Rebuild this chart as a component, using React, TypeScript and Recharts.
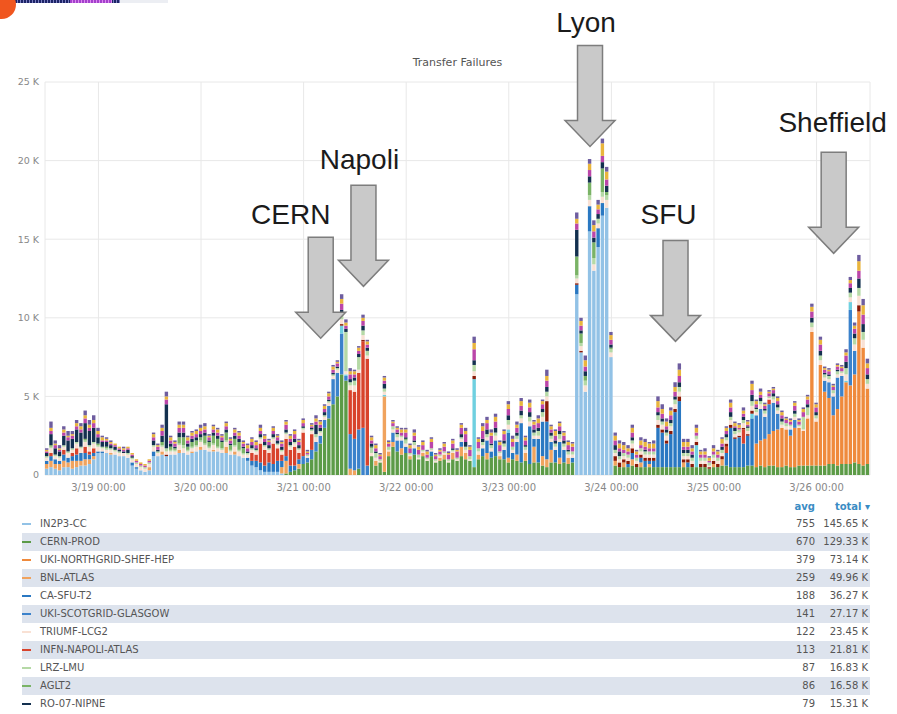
import React from 'react';
import { BarChart, Bar, XAxis, YAxis, CartesianGrid, ReferenceDot } from 'recharts';

// one bar per hour, from 3/18 12:00 to 3/26 12:00
const DAYS = ['3/18', '3/19', '3/20', '3/21', '3/22', '3/23', '3/24', '3/25', '3/26'];
const FIRST_HOUR = 12;
const LAST_HOUR = 12;
const X_TICKS = ['3/19 00:00', '3/20 00:00', '3/21 00:00', '3/22 00:00', '3/23 00:00', '3/24 00:00', '3/25 00:00', '3/26 00:00'];
const Y_TICKS = [0, 5000, 10000, 15000, 20000, 25000];

// failures per hour, in hundreds. one line per day (3/18 and 3/26 are half days)
const CERN_PROD = [
  0,0,0,0,0,0,0,0,0,0,0,0,
  0,0,0,0,0,0,0,0,0,0,0,0, 0,0,0,0,0,0,0,0,0,0,0,0,
  0,0,0,0,0,0,0,0,0,0,0,0, 0,0,0,0,0,0,0,0,1,2,3,4,
  7,8,10,15,20,30,36,45,50,64,60,0, 0,4,0,0,12,6,8,2,12,18,15,13,
  14,10,13,10,12,9,12,8,9,10,8,10, 9,12,10,9,5,10,12,10,11,12,10,10,
  8,10,9,8,9,7,8,8,6,5,8,8, 7,8,7,8,0,0,0,0,0,0,0,0,
  0,6,5,5,5,6,5,5,5,5,5,5, 5,5,5,5,5,5,5,5,5,5,5,4,
  5,5,6,6,5,5,5,5,6,6,5,6, 5,6,6,5,5,6,5,5,6,6,6,6,
  6,6,6,7,7,6,7,7,7,8,7,6,7,
];
const IN2P3_CC = [
  4,5,4,3,5,5,4,5,6,6,7,10,
  14,14,14,13,13,12,12,11,6,4,3,2, 3,12,12,13,12,13,13,14,14,13,14,15,
  16,16,15,15,15,14,14,13,13,12,11,9, 6,5,3,2,2,2,2,1,0,0,0,0,
  0,0,0,0,0,0,0,0,0,0,0,0, 0,0,0,0,0,0,0,0,0,0,0,0,
  0,0,0,0,0,0,0,0,0,0,0,0, 0,0,0,0,0,0,0,0,0,0,0,0,
  0,0,0,0,0,0,0,0,0,0,0,0, 0,0,0,0,115,78,53,155,130,145,165,170,
  75,0,0,0,0,0,0,0,0,0,0,0, 0,0,0,0,0,0,0,0,0,0,0,0,
  0,0,0,0,0,0,0,0,0,0,0,0, 0,0,0,0,0,0,0,0,0,0,0,0,
  0,0,0,0,0,0,0,0,0,0,0,0,0,
];
const SHEF_HEP = [
  0,0,0,0,0,0,0,0,0,0,0,0,
  0,0,0,0,0,0,0,0,0,0,0,0, 0,0,0,0,0,0,0,0,0,0,0,0,
  0,0,0,0,0,0,0,0,0,0,0,0, 0,0,0,0,0,0,0,0,0,0,0,0,
  0,0,0,0,0,0,0,0,0,0,0,0, 0,0,0,0,0,0,0,0,0,0,0,0,
  0,0,0,0,0,0,0,0,0,0,0,0, 0,0,0,0,0,0,0,0,0,0,0,0,
  0,0,0,0,0,0,0,0,0,0,0,0, 0,0,0,0,0,0,0,0,0,0,0,0,
  0,0,0,0,0,0,0,0,0,0,0,0, 0,0,0,0,0,0,0,0,0,0,0,0,
  0,0,0,0,0,0,0,0,0,0,15,16, 18,20,22,24,25,23,20,25,24,22,30,85,
  28,64,47,42,31,36,43,52,50,56,97,75,48,
];
const BNL_ATLAS = [
  3,4,3,4,4,3,5,4,3,4,3,2,
  0,0,0,1,0,0,0,0,0,0,0,0, 2,0,0,2,0,0,0,2,0,0,1,0,
  2,0,0,1,0,0,4,0,2,0,0,0, 0,0,0,0,0,0,0,4,8,0,0,3,
  0,0,0,0,0,0,0,0,0,0,0,4, 3,0,0,0,0,3,0,48,3,3,0,4,
  0,2,0,0,2,0,0,0,2,3,0,4, 0,6,4,0,0,3,0,4,0,0,2,0,
  3,0,4,0,5,0,10,0,6,5,8,0, 4,0,4,0,0,0,0,0,0,0,0,0,
  0,3,0,3,0,4,0,3,0,2,0,0, 0,0,0,0,0,3,0,0,0,0,0,0,
  2,0,4,0,0,0,0,0,0,0,0,0, 0,0,0,0,0,0,0,0,0,0,0,0,
  0,0,0,0,0,0,0,0,0,0,0,0,0,
];
const CA_SFU = [
  2,3,3,2,4,3,3,4,5,4,3,2,
  1,1,0,0,0,0,0,0,2,1,0,0, 0,3,0,0,0,0,0,0,0,0,0,0,
  0,0,0,0,0,0,0,0,0,0,0,2, 3,4,5,4,6,5,7,4,3,4,3,3,
  0,0,0,0,0,0,0,0,0,0,0,0, 0,0,0,0,0,0,0,0,0,0,0,0,
  4,0,4,0,0,0,3,0,0,0,0,0, 0,3,0,0,0,0,5,8,4,10,0,6,
  16,4,8,25,0,24,5,15,22,24,5,8, 10,8,0,3,6,0,0,16,0,12,8,0,
  0,0,0,0,2,4,0,3,4,2,4,25, 22,15,21,35,42,0,3,0,0,0,0,0,
  0,0,0,8,25,18,19,15,19,30,0,0, 0,0,0,0,0,0,0,0,0,0,0,0,
  0,0,0,0,0,0,0,0,0,0,0,0,0,
];
const GLASGOW = [
  0,0,0,0,0,0,0,0,0,0,0,0,
  0,0,0,0,0,0,0,0,0,0,0,0, 0,0,0,0,0,0,0,0,0,0,0,0,
  0,0,0,0,0,0,0,0,0,0,0,0, 0,0,0,0,0,0,0,0,0,0,0,0,
  5,3,6,6,5,5,8,16,15,26,3,22, 20,25,30,6,0,0,0,0,0,6,7,5,
  0,0,0,0,0,0,0,0,0,0,0,0, 0,0,0,0,0,0,0,0,0,0,0,0,
  0,0,0,0,0,0,0,0,0,0,0,0, 0,0,0,0,0,0,0,0,0,0,0,0,
  0,0,0,0,0,0,0,0,0,0,0,0, 0,0,0,0,0,0,0,0,0,0,0,0,
  0,0,0,0,0,0,0,0,0,0,18,20, 14,19,18,10,0,0,4,5,0,0,0,0,
  0,0,7,10,12,20,13,0,48,15,0,0,0,
];
const NAPOLI = [
  0,2,0,0,3,0,2,4,0,4,2,3,
  0,0,0,0,0,0,0,0,0,0,0,0, 0,0,0,0,0,0,0,0,0,0,0,0,
  0,0,0,0,0,0,0,0,0,0,0,0, 5,4,12,10,6,13,8,4,11,10,12,4,
  15,0,10,0,0,0,0,0,0,0,0,28, 30,36,55,68,0,0,0,0,0,0,0,0,
  0,0,0,0,0,0,0,0,0,0,0,0, 0,0,0,0,0,0,0,0,0,0,0,0,
  0,0,0,0,0,0,0,0,0,0,0,0, 0,0,0,0,0,0,0,0,0,0,0,0,
  0,0,0,0,0,0,0,0,0,0,0,0, 0,0,0,0,0,0,0,0,0,0,0,0,
  0,0,0,4,0,0,0,9,0,0,0,0, 0,3,0,0,0,0,0,0,0,0,0,0,
  0,0,0,0,0,0,0,0,0,0,0,0,0,
];
const OTHER_CYAN = [
  0,0,0,0,0,0,0,0,0,0,0,0,
  0,0,0,0,0,0,0,0,0,0,0,0, 0,0,0,0,0,0,0,0,0,0,0,0,
  0,0,0,0,0,0,0,0,0,0,0,0, 0,0,0,0,0,0,0,0,0,0,0,0,
  0,0,0,0,0,0,0,0,0,5,1,0, 0,0,0,0,0,0,0,1,0,0,0,0,
  0,0,0,0,0,0,0,0,0,0,0,0, 0,0,0,0,56,0,0,0,0,0,0,0,
  2,0,0,0,0,0,0,0,0,0,0,0, 0,0,0,0,0,0,0,0,0,0,0,0,
  0,0,0,0,0,0,0,0,0,0,0,0, 0,0,0,0,0,0,0,0,14,0,0,0,
  0,0,0,0,0,0,0,0,0,3,0,0, 0,0,0,0,0,0,0,0,0,0,0,0,
  0,0,0,0,0,0,0,1,5,0,0,0,0,
];
const OTHER_DARKRED = [
  0,0,0,0,0,0,0,0,0,0,0,0,
  0,0,0,0,0,0,0,0,0,0,0,0, 0,0,0,0,1,0,0,0,0,0,0,0,
  0,0,0,0,0,0,0,0,0,0,0,0, 0,0,0,0,0,0,0,0,0,0,0,0,
  0,0,0,0,0,0,0,0,0,1,0,0, 0,0,1,0,0,0,0,0,0,0,0,0,
  0,0,0,0,0,0,0,0,0,0,0,0, 0,0,0,0,2,0,0,0,0,0,0,0,
  0,0,0,0,0,0,0,0,0,13,0,0, 0,0,0,0,1,1,0,0,0,0,0,0,
  0,3,3,2,2,3,2,2,2,2,2,2, 2,2,2,2,3,2,2,2,2,2,2,1,
  2,2,2,2,2,1,1,1,1,2,0,0, 0,0,0,0,0,0,0,0,0,0,0,0,
  0,0,0,0,0,0,0,0,0,0,4,0,0,
];
const TRIUMF = [
  2,3,2,2,2,3,2,3,3,3,3,3,
  3,2,2,2,2,2,2,2,2,2,2,2, 2,3,2,3,2,2,2,3,3,2,2,3,
  3,3,2,3,2,2,3,2,3,3,2,2, 2,2,3,2,2,3,2,2,3,2,2,2,
  2,1,2,3,2,2,2,2,2,3,2,3, 4,2,3,2,2,2,1,2,1,2,2,2,
  2,1,2,1,1,1,1,1,1,1,1,1, 1,2,2,1,3,2,2,2,2,3,2,2,
  3,2,2,3,2,3,2,2,3,3,2,2, 2,2,2,2,3,3,4,4,4,3,4,5,
  3,2,2,2,2,3,2,2,2,2,2,3, 3,3,3,3,3,2,2,2,2,2,2,1,
  2,2,2,2,3,2,2,3,2,3,2,3, 2,1,2,2,2,2,2,2,1,1,2,3,
  2,3,2,2,2,2,2,4,3,4,6,5,3,
];
const LRZ_LMU = [
  1,1,1,1,1,1,1,1,1,1,1,1,
  1,1,1,1,1,1,0,1,1,1,1,1, 1,1,1,1,2,1,1,1,2,1,1,1,
  1,1,1,1,1,1,1,1,1,1,1,1, 1,1,1,1,1,1,1,1,1,1,1,1,
  1,1,1,2,1,1,1,1,1,3,25,2, 3,8,3,3,3,3,1,2,2,2,2,1,
  2,1,2,2,1,1,1,1,1,1,1,1, 1,1,2,2,4,2,2,2,2,2,1,2,
  3,2,2,2,2,3,2,3,3,3,2,2, 3,2,2,2,2,2,3,3,4,3,3,3,
  2,2,2,2,2,2,2,2,2,2,2,3, 2,2,2,3,3,2,2,2,2,2,2,2,
  2,2,2,2,2,2,2,2,2,3,2,2, 2,1,2,2,2,2,1,2,1,8,5,3,
  2,3,2,2,2,2,1,4,3,4,5,5,3,
];
const AGLT2 = [
  0,1,0,0,0,0,0,0,0,1,0,0,
  1,0,1,0,0,0,0,0,0,0,0,0, 0,0,0,2,0,2,1,4,5,2,3,3,
  2,5,3,5,5,4,5,3,4,5,3,0, 0,0,0,0,0,0,0,0,0,0,0,0,
  0,0,0,0,0,0,0,0,0,0,0,0, 0,0,0,0,1,0,0,0,0,0,0,0,
  1,0,0,0,0,0,0,0,0,0,0,0, 0,0,0,0,0,0,0,0,0,0,0,0,
  0,0,0,0,0,0,0,0,0,0,0,0, 0,0,0,0,12,6,3,8,10,0,15,2,
  1,0,0,0,0,0,0,0,0,0,0,0, 0,0,0,0,0,0,0,0,0,0,0,0,
  0,0,0,0,0,0,0,0,0,0,0,0, 0,0,0,0,0,0,0,0,0,0,0,0,
  0,0,0,0,0,0,0,0,0,0,0,0,0,
];
const RO_07_NIPNE = [
  2,7,4,3,6,7,6,8,9,10,9,9,
  4,3,3,2,2,1,1,2,1,0,0,0, 0,3,1,4,28,2,1,3,3,2,2,2,
  2,2,1,2,2,1,2,1,2,2,1,1, 2,1,2,2,2,2,2,2,2,2,2,2,
  1,0,1,6,2,2,1,1,1,3,2,2, 2,2,3,2,2,1,0,3,0,0,1,0,
  1,0,1,0,0,0,0,0,0,0,0,1, 0,2,3,0,3,0,2,3,1,3,0,2,
  3,0,2,3,1,3,2,2,2,3,2,2, 2,2,1,0,17,2,3,4,3,3,4,4,
  2,3,3,0,0,2,0,0,1,0,0,2, 2,2,2,2,3,2,2,2,0,0,0,0,
  0,0,2,2,3,2,0,2,1,4,1,2, 1,0,2,2,2,0,0,2,0,0,2,3,
  2,3,1,1,0,1,0,4,3,3,6,5,3,
];
const OTHER_MAGENTA = [
  1,2,2,1,2,2,2,2,2,3,2,3,
  2,1,1,1,1,1,1,1,1,1,1,1, 1,2,2,3,3,2,2,3,3,2,2,2,
  2,2,2,2,2,2,2,2,2,2,2,2, 2,2,2,2,2,2,2,2,3,2,3,2,
  2,1,1,2,2,2,2,2,2,4,2,3, 2,2,3,2,2,2,2,2,2,2,2,2,
  3,3,3,3,3,2,4,2,2,3,3,3, 4,4,5,4,7,4,5,4,5,4,4,4,
  4,3,3,3,3,3,3,3,3,4,2,3, 3,3,3,3,4,3,3,4,4,3,4,4,
  3,3,2,2,2,3,2,2,2,2,2,3, 3,2,3,3,4,2,2,2,2,2,2,1,
  2,2,2,2,3,1,1,2,1,3,2,2, 2,2,2,2,2,2,2,3,2,3,3,4,
  3,4,2,2,2,2,2,4,3,3,5,6,4,
];
const OTHER_YELLOW = [
  1,2,1,1,2,1,1,2,2,2,2,2,
  2,2,1,1,1,1,1,1,1,1,1,1, 1,2,1,2,2,2,1,2,2,2,2,2,
  2,2,1,2,2,1,2,1,2,2,1,2, 2,2,2,2,1,2,1,1,2,2,2,1,
  2,1,1,2,2,2,2,2,1,3,2,2, 2,2,2,2,2,2,1,2,1,1,1,2,
  2,2,2,2,2,2,2,1,1,2,1,2, 1,2,2,2,4,2,3,2,2,3,2,2,
  3,2,2,3,2,3,2,3,2,3,2,3, 2,2,2,2,3,3,4,4,4,3,8,5,
  3,3,3,3,2,3,2,3,3,3,3,4, 3,3,3,3,4,3,3,2,3,2,2,2,
  2,2,3,2,3,2,2,2,2,4,2,2, 1,1,1,2,2,1,1,2,1,2,2,3,
  2,3,1,1,1,1,1,2,2,2,6,6,3,
];
const OTHER_PURPLE = [
  1,4,2,2,2,3,2,2,2,3,3,3,
  2,1,1,1,0,0,1,0,0,0,0,0, 0,1,1,2,3,1,1,2,2,1,1,1,
  2,2,1,1,1,1,1,1,1,1,1,1, 1,1,2,1,1,1,1,1,1,1,1,1,
  1,1,1,2,1,1,1,1,1,3,2,2, 1,1,2,1,1,1,1,1,1,1,1,1,
  1,1,2,1,1,1,1,1,1,1,1,1, 1,1,2,1,4,1,2,2,2,2,1,1,
  2,2,2,2,1,2,1,2,1,4,1,1, 1,1,1,1,4,2,3,3,3,3,3,3,
  2,2,2,2,2,2,1,2,2,1,2,3, 3,2,2,3,4,2,2,2,2,1,2,1,
  2,1,1,1,2,1,1,2,1,2,1,2, 1,1,1,1,1,1,1,1,1,1,1,2,
  1,2,1,1,1,1,1,2,2,2,4,4,3,
];

// legend table
const LEGEND_NAMES = [
  'IN2P3-CC', 'CERN-PROD', 'UKI-NORTHGRID-SHEF-HEP', 'BNL-ATLAS', 'CA-SFU-T2', 'UKI-SCOTGRID-GLASGOW',
  'TRIUMF-LCG2', 'INFN-NAPOLI-ATLAS', 'LRZ-LMU', 'AGLT2', 'RO-07-NIPNE',
];
const LEGEND_AVG = ['755', '670', '379', '259', '188', '141', '122', '113', '87', '86', '79'];
const LEGEND_TOTAL = ['145.65 K', '129.33 K', '73.14 K', '49.96 K', '36.27 K', '27.17 K', '23.45 K', '21.81 K', '16.83 K', '16.58 K', '15.31 K'];

// arrows drawn on the screenshot
const ANNOTATION_LABELS = ['CERN', 'Napoli', 'Lyon', 'SFU', 'Sheffield'];
const ANNOTATION_AT = ['3/21 04:00', '3/21 14:00', '3/23 19:00', '3/24 15:00', '3/26 04:00'];
const ANNOTATION_VALUE = [8700, 12000, 20900, 8500, 14100];

// stacking order, bottom first
const SERIES = [
  { key: 'cern', name: 'CERN-PROD', color: '#5c9b47', values: CERN_PROD },
  { key: 'in2p3', name: 'IN2P3-CC', color: '#92c2e6', values: IN2P3_CC },
  { key: 'shef', name: 'UKI-NORTHGRID-SHEF-HEP', color: '#ef8a3c', values: SHEF_HEP },
  { key: 'bnl', name: 'BNL-ATLAS', color: '#f0a35e', values: BNL_ATLAS },
  { key: 'sfu', name: 'CA-SFU-T2', color: '#2a78c2', values: CA_SFU },
  { key: 'glasgow', name: 'UKI-SCOTGRID-GLASGOW', color: '#3b82cb', values: GLASGOW },
  { key: 'napoli', name: 'INFN-NAPOLI-ATLAS', color: '#d8432c', values: NAPOLI },
  { key: 'cyan', name: 'other', color: '#6fd0e0', values: OTHER_CYAN },
  { key: 'darkred', name: 'other', color: '#8a1a08', values: OTHER_DARKRED },
  { key: 'triumf', name: 'TRIUMF-LCG2', color: '#f9e1d4', values: TRIUMF },
  { key: 'lrz', name: 'LRZ-LMU', color: '#b5d9a6', values: LRZ_LMU },
  { key: 'aglt2', name: 'AGLT2', color: '#7ab366', values: AGLT2 },
  { key: 'ro07', name: 'RO-07-NIPNE', color: '#13304f', values: RO_07_NIPNE },
  { key: 'magenta', name: 'other', color: '#bb46a9', values: OTHER_MAGENTA },
  { key: 'yellow', name: 'other', color: '#e9b53c', values: OTHER_YELLOW },
  { key: 'purple', name: 'other', color: '#6e5d9f', values: OTHER_PURPLE },
];

const FONT = '"DejaVu Sans", Verdana, sans-serif';

const hh = (h: number) => `${h < 10 ? '0' : ''}${h}:00`;
const categories: string[] = [];
DAYS.forEach((d, i) => {
  const from = i === 0 ? FIRST_HOUR : 0;
  const to = i === DAYS.length - 1 ? LAST_HOUR : 23;
  for (let h = from; h <= to; h++) categories.push(`${d} ${hh(h)}`);
});

const chartData = categories.map((t, i) => {
  const row: Record<string, any> = { t };
  SERIES.forEach(s => { row[s.key] = (s.values[i] || 0) * 100; });
  return row;
});

// label nudges so the text sits where it was placed on the slide
const LABEL_DX: Record<string, number> = { CERN: -30, Napoli: -4, Lyon: -4, SFU: -7, Sheffield: -1 };
const LABEL_DY: Record<string, number> = { CERN: 0, Napoli: -3, Lyon: 0, SFU: -3, Sheffield: -7 };

const Arrow = (props: any) => {
  const { cx, cy, text } = props;
  if (cx == null || cy == null) return null;
  const head = 26, headHalf = 25, shaftHalf = 12.5, shaft = 75;
  const top = cy - head - shaft;
  const pts = [
    [cx - shaftHalf, top], [cx + shaftHalf, top], [cx + shaftHalf, cy - head], [cx + headHalf, cy - head],
    [cx, cy], [cx - headHalf, cy - head], [cx - shaftHalf, cy - head],
  ].map(p => p.join(',')).join(' ');
  return (
    <g>
      <polygon points={pts} fill="#c9c9c9" stroke="#7d7d7d" strokeWidth={1.5} />
      <text x={cx + (LABEL_DX[text] || 0)} y={top - 13 + (LABEL_DY[text] || 0)} textAnchor="middle" fontSize={28}
        fontFamily='"Liberation Sans", Arial, sans-serif' fill="#1b1b1b">{text}</text>
    </g>
  );
};

const colorOf = (name: string) => SERIES.find(s => s.name === name)?.color || '#999';

export default function App() {
  return (
    <div style={{ position: 'absolute', left: 0, top: 0, width: 897, height: 714, background: '#fff', overflow: 'hidden', fontFamily: FONT }}>
      {/* edge of the slide around the screenshot */}
      <div style={{ position: 'absolute', left: 0, top: 0, width: 120, height: 3, background: 'repeating-linear-gradient(90deg, #1c2366 0 2px, #7b7fc0 2px 3px)' }} />
      <div style={{ position: 'absolute', left: 70, top: 0, width: 42, height: 3, background: 'repeating-linear-gradient(90deg, #a340cc 0 2px, #dd88ee 2px 3px)' }} />
      <div style={{ position: 'absolute', left: 120, top: 0, width: 48, height: 3, background: '#eceef3' }} />
      <div style={{ position: 'absolute', left: -13, top: -10, width: 29, height: 29, borderRadius: '50%', background: '#f0561f' }} />

      <div style={{ position: 'absolute', left: 45, width: 825, top: 56, textAlign: 'center', fontSize: 11, lineHeight: '13px', color: '#555' }}>
        Transfer Failures
      </div>

      <div style={{ position: 'absolute', left: 0, top: 0 }}>
        <BarChart width={897} height={500} data={chartData} margin={{ top: 82, right: 27, left: 0, bottom: 0 }} barSize={3.4}>
          <CartesianGrid stroke="#e8e8e8" />
          <XAxis
            dataKey="t"
            ticks={X_TICKS}
            interval={0}
            height={25}
            axisLine={false}
            tickLine={false}
            tickMargin={3}
            tick={{ fontSize: 10, fill: '#888', fontFamily: FONT }}
          />
          <YAxis
            width={45}
            domain={[0, 25000]}
            ticks={Y_TICKS}
            axisLine={false}
            tickLine={false}
            tickSize={5}
            tickMargin={1}
            tick={{ fontSize: 9.5, fill: '#888', fontFamily: FONT }}
            tickFormatter={(v: number) => (v === 0 ? '0' : `${v / 1000} K`)}
          />
          {SERIES.map(s => (
            <Bar key={s.key} dataKey={s.key} name={s.name} stackId="a" fill={s.color} isAnimationActive={false} />
          ))}
          {ANNOTATION_LABELS.map((label, i) => (
            <ReferenceDot
              key={label}
              x={ANNOTATION_AT[i]}
              y={ANNOTATION_VALUE[i]}
              r={0}
              ifOverflow="visible"
              shape={(p: any) => <Arrow {...p} text={label} />}
            />
          ))}
        </BarChart>
      </div>

      {/* legend table */}
      <div style={{ position: 'absolute', left: 22, top: 498, width: 848, fontSize: 10, color: '#555' }}>
        <div style={{ height: 17, position: 'relative', fontWeight: 'bold', color: '#3a8cc4' }}>
          <span style={{ position: 'absolute', right: 55, top: 3, lineHeight: '12px' }}>avg</span>
          <span style={{ position: 'absolute', right: 0, top: 3, lineHeight: '12px' }}>total ▾</span>
        </div>
        {LEGEND_NAMES.map((name, i) => (
          <div key={name} style={{ height: 18, position: 'relative', background: i % 2 ? '#dde3ed' : 'transparent' }}>
            <span style={{ position: 'absolute', left: 0, top: 8, width: 9, height: 2, background: colorOf(name) }} />
            <span style={{ position: 'absolute', left: 18, top: 3, lineHeight: '12px' }}>{name}</span>
            <span style={{ position: 'absolute', right: 55, top: 3, lineHeight: '12px' }}>{LEGEND_AVG[i]}</span>
            <span style={{ position: 'absolute', right: 2, top: 3, lineHeight: '12px' }}>{LEGEND_TOTAL[i]}</span>
          </div>
        ))}
      </div>
    </div>
  );
}
